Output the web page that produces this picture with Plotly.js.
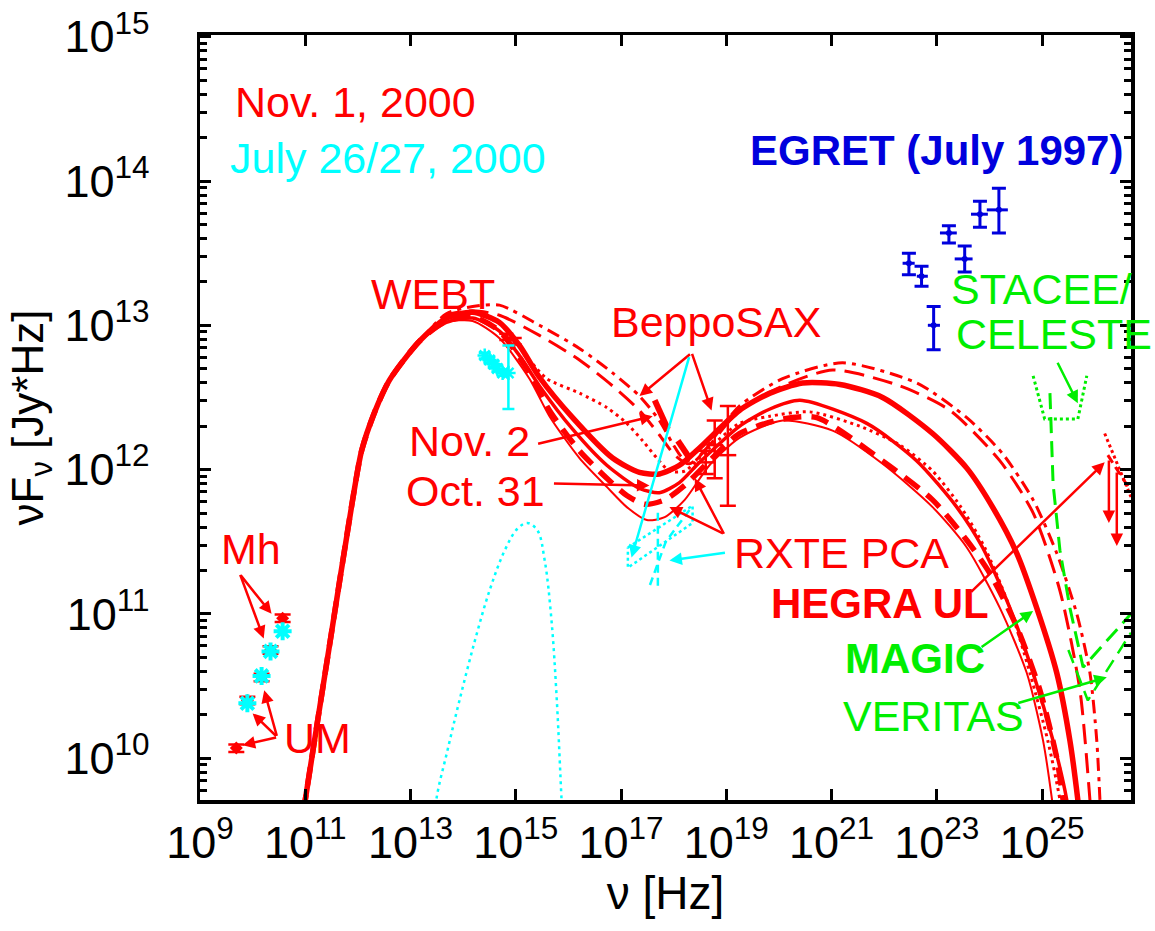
<!DOCTYPE html>
<html>
<head>
<meta charset="utf-8">
<script src="https://cdn.plot.ly/plotly-3.0.1.min.js"></script>
<style>
  html, body { margin: 0; padding: 0; background: #ffffff; }
  #chart { width: 1155px; height: 931px; }
</style>
</head>
<body>
<div id="chart"></div>
<script>
// Spectral energy distribution of BL Lacertae: model curves and multiwavelength data.
// All numbers are log10 of frequency [Hz] and log10 of nuF_nu [Jy*Hz].

// Common synchrotron rise shared by every model curve
const riseLogNu   = [10.89, 11.00, 11.46, 11.90, 12.07, 12.32, 12.60, 13.17];
const riseLogFlux = [ 9.43,  9.71, 10.78, 11.79, 12.13, 12.40, 12.62, 12.89];

// Thick solid model
const thickSolidLogNu   = [13.68, 14.18, 14.69, 15.07, 15.45, 16.08, 16.84, 17.35, 17.73, 18.11, 18.49, 19.25, 19.83, 20.45, 21.16, 21.97, 22.92, 23.57, 24.06, 24.52, 24.90, 25.28, 25.53, 25.68, 25.76];
const thickSolidLogFlux = [13.05, 13.09, 13.02, 12.86, 12.64, 12.36, 12.08, 11.98, 11.97, 12.03, 12.15, 12.41, 12.53, 12.60, 12.59, 12.50, 12.25, 12.01, 11.74, 11.42, 11.04, 10.59, 10.12,  9.71,  9.43];

// Medium solid model
const midSolidLogNu   = [13.68, 14.18, 14.69, 15.07, 15.45, 16.08, 16.73, 17.35, 17.73, 18.11, 18.49, 19.25, 19.83, 20.40, 21.67, 22.62, 23.38, 23.87, 24.39, 24.83, 25.21, 25.47, 25.57];
const midSolidLogFlux = [13.02, 13.05, 12.96, 12.79, 12.58, 12.28, 12.03, 11.87, 11.84, 11.91, 12.05, 12.30, 12.42, 12.48, 12.32, 12.06, 11.74, 11.46, 11.04, 10.59, 10.12,  9.71,  9.43];

// Thin solid model
const thinSolidLogNu   = [13.68, 14.18, 14.69, 15.26, 15.64, 16.21, 16.73, 17.11, 17.49, 17.83, 18.21, 18.68, 19.25, 20.07, 21.02, 21.97, 22.92, 23.57, 24.20, 24.71, 25.02, 25.19, 25.28];
const thinSolidLogFlux = [13.02, 13.03, 12.91, 12.63, 12.37, 12.08, 11.88, 11.74, 11.65, 11.67, 11.79, 12.03, 12.22, 12.34, 12.27, 12.04, 11.74, 11.46, 11.04, 10.59, 10.12,  9.71,  9.43];

// Thick dashed model
const thickDashLogNu   = [13.68, 14.18, 14.69, 15.26, 15.64, 16.21, 16.73, 17.11, 17.45, 17.83, 18.21, 18.68, 19.25, 20.07, 20.72, 21.97, 22.92, 23.57, 24.01, 24.52, 24.96, 25.28, 25.40, 25.49];
const thickDashLogFlux = [13.03, 13.06, 12.96, 12.67, 12.41, 12.13, 11.94, 11.82, 11.76, 11.79, 11.89, 12.06, 12.25, 12.35, 12.36, 12.06, 11.79, 11.51, 11.28, 10.91, 10.47, 10.00,  9.71,  9.43];

// Long dashed model
const longDashLogNu   = [13.68, 14.18, 14.69, 15.45, 16.21, 16.84, 17.35, 17.73, 18.02, 18.30, 18.68, 19.25, 20.07, 21.02, 22.30, 23.25, 24.20, 24.83, 25.34, 25.72, 25.91, 25.97];
const longDashLogFlux = [13.07, 13.10, 13.07, 12.93, 12.76, 12.58, 12.41, 12.24, 12.10, 12.04, 12.17, 12.41, 12.58, 12.69, 12.58, 12.41, 12.06, 11.70, 11.16, 10.47,  9.71,  9.43];

// Dash-dot model (highest gamma-ray output)
const dashDotLogNu   = [13.68, 14.18, 14.69, 15.45, 16.21, 16.84, 17.35, 17.73, 17.98, 18.17, 18.40, 18.72, 19.25, 20.07, 21.21, 22.62, 23.57, 24.25, 24.83, 25.28, 25.66, 25.91, 26.04, 26.10, 26.14];
const dashDotLogFlux = [13.08, 13.13, 13.14, 13.00, 12.84, 12.67, 12.51, 12.34, 12.18, 12.08, 12.06, 12.20, 12.44, 12.63, 12.74, 12.60, 12.36, 12.11, 11.79, 11.42, 11.00, 10.59, 10.12,  9.71,  9.43];

// Dotted model
const dottedLogNu   = [13.68, 14.18, 14.69, 15.26, 15.59, 16.21, 16.73, 17.11, 17.41, 17.68, 17.92, 18.21, 18.68, 19.25, 19.83, 20.59, 21.54, 22.30, 22.92, 23.44, 23.91, 24.39, 24.77, 25.11, 25.34, 25.43];
const dottedLogFlux = [13.05, 13.09, 13.02, 12.76, 12.63, 12.53, 12.43, 12.32, 12.20, 12.08, 11.99, 11.99, 12.15, 12.32, 12.37, 12.40, 12.30, 12.17, 11.99, 11.75, 11.46, 11.04, 10.59, 10.12,  9.71,  9.43];

// Thermal (accretion disk / host) component, July 2000
const thermalLogNu   = [13.44, 13.49, 13.70, 13.93, 14.22, 14.50, 14.79, 15.03, 15.22, 15.41, 15.55, 15.68, 15.78, 15.87, 15.91];
const thermalLogFlux = [ 9.43,  9.71, 10.05, 10.40, 10.81, 11.16, 11.44, 11.59, 11.63, 11.58, 11.37, 10.95, 10.40,  9.71,  9.43];

// Radio data (UMRAO, Metsähovi)
const radioJulyLogNu   = [ 9.90, 10.17, 10.34, 10.57];
const radioJulyLogFlux = [10.38, 10.57, 10.74, 10.88];
const radioNovLogNu    = [ 9.69,  9.90, 10.17, 10.34, 10.57];
const radioNovLogFlux  = [10.07, 10.40, 10.56, 10.75, 10.97];

// Optical WEBT data
const optJulyLogNu   = [14.41, 14.50, 14.58, 14.65, 14.75, 14.86];
const optJulyLogFlux = [12.79, 12.76, 12.73, 12.70, 12.67, 12.67];
const optJulyHi      = [12.81, 12.78, 12.75, 12.72, 12.69, 12.86];
const optJulyLo      = [12.77, 12.74, 12.71, 12.68, 12.65, 12.42];
const optNovLogNu    = [14.82, 14.98];
const optNovLogFlux  = [12.92, 12.89];

// BeppoSAX LECS/MECS spectra, Oct. 31 and Nov. 2
const saxSpecALogNu   = [17.64, 17.89];
const saxSpecALogFlux = [12.48, 12.28];
const saxSpecBLogNu   = [18.08, 18.30];
const saxSpecBLogFlux = [12.20, 12.08];

// BeppoSAX PDS points, Nov. 2000
const saxLogNu   = [18.61, 18.78, 19.03];
const saxLogFlux = [12.05, 12.17, 12.10];
const saxHi      = [12.13, 12.34, 12.44];
const saxLo      = [11.97, 11.94, 11.75];

// RXTE PCA butterflies, July 2000
const rxteDotLogNu   = [17.13, 18.36, 18.36, 17.13, 17.13];
const rxteDotLogFlux = [11.46, 11.75, 11.63, 11.32, 11.46];
const rxteDashLogNu   = [17.70, 17.70];
const rxteDashLogFlux = [11.70, 11.16];
const rxteSlopeLogNu   = [17.55, 17.85, 18.30];
const rxteSlopeLogFlux = [11.20, 11.50, 11.72];

// EGRET (July 1997)
const egretLogNu   = [22.47, 22.71, 23.23, 23.53, 23.82, 24.18, 22.94];
const egretLogFlux = [13.43, 13.34, 13.64, 13.46, 13.77, 13.80, 13.00];
const egretHi      = [13.50, 13.41, 13.69, 13.55, 13.86, 13.95, 13.13];
const egretLo      = [13.35, 13.27, 13.57, 13.37, 13.68, 13.64, 12.83];
const egretNuHi    = [22.58, 22.83, 23.38, 23.68, 23.97, 24.35, 23.06];
const egretNuLo    = [22.35, 22.62, 23.06, 23.34, 23.65, 23.95, 22.83];

// HEGRA upper limits
const hegraDotLogNu    = [26.19, 26.69];
const hegraDotLogFlux  = [12.25, 11.81];
const hegraDashLogNu   = [26.25, 26.69];
const hegraDashLogFlux = [12.10, 11.85];

// Instrument sensitivities
const stacceLogNu   = [24.83, 25.05, 25.68, 25.85];
const stacceLogFlux = [12.65, 12.35, 12.35, 12.65];
const magicLogNu    = [25.15, 25.21, 25.34, 25.53, 25.78, 26.69];
const magicLogFlux  = [12.53, 11.90, 11.44, 11.04, 10.63, 11.00];
const veritasLogNu   = [25.50, 25.87, 26.69];
const veritasLogFlux = [10.75, 10.40, 10.87];

// Axis tick exponents
const xTickExps = [9, 11, 13, 15, 17, 19, 21, 23, 25];
const yTickExps = [10, 11, 12, 13, 14, 15];

const FONT = 'Liberation Sans, Arial, Helvetica, sans-serif';
const RED = '#ff0000', CYAN = '#00ffff', BLUE = '#0000dd', GREEN = '#00ee00';
const p10 = v => Math.pow(10, v);
const powLabel = e => '10<sup style="font-size:28px">' + e + '</sup>';

function modelCurve(lx, ly, width, dash) {
  return {
    type: 'scatter', mode: 'lines',
    x: riseLogNu.concat(lx).map(p10), y: riseLogFlux.concat(ly).map(p10),
    line: { color: RED, width: width, dash: dash, shape: 'spline', smoothing: 0.7 },
    hoverinfo: 'skip', showlegend: false
  };
}
function plainLine(lx, ly, color, width, dash, shape) {
  return {
    type: 'scatter', mode: 'lines', x: lx.map(p10), y: ly.map(p10),
    line: { color: color, width: width, dash: dash, shape: shape || 'linear' },
    hoverinfo: 'skip', showlegend: false
  };
}
function errUp(c, hi) { return c.map((v, i) => p10(hi[i]) - p10(v)); }
function errDown(c, lo) { return c.map((v, i) => p10(v) - p10(lo[i])); }

const traces = [
  modelCurve(dashDotLogNu, dashDotLogFlux, 3, '13px,6px,4px,6px'),
  modelCurve(longDashLogNu, longDashLogFlux, 3, '20px,9px'),
  modelCurve(thickSolidLogNu, thickSolidLogFlux, 5.5, 'solid'),
  modelCurve(dottedLogNu, dottedLogFlux, 3, '3px,4px'),
  modelCurve(midSolidLogNu, midSolidLogFlux, 3.5, 'solid'),
  modelCurve(thickDashLogNu, thickDashLogFlux, 5.5, '18px,10px'),
  modelCurve(thinSolidLogNu, thinSolidLogFlux, 2, 'solid'),

  plainLine(saxSpecALogNu, saxSpecALogFlux, RED, 6, 'solid'),
  plainLine(saxSpecBLogNu, saxSpecBLogFlux, RED, 6, 'solid'),

  plainLine(thermalLogNu, thermalLogFlux, CYAN, 2.5, '3px,4px', 'spline'),

  plainLine(rxteDotLogNu, rxteDotLogFlux, CYAN, 2.5, '3px,3px'),
  plainLine(rxteDashLogNu, rxteDashLogFlux, CYAN, 2.5, '8px,5px'),
  plainLine(rxteSlopeLogNu, rxteSlopeLogFlux, CYAN, 2.5, '8px,5px'),

  plainLine(hegraDotLogNu, hegraDotLogFlux, RED, 3, '3px,3px'),
  plainLine(hegraDashLogNu, hegraDashLogFlux, RED, 3, '9px,5px'),

  plainLine(stacceLogNu, stacceLogFlux, GREEN, 3, '3px,3px'),
  plainLine(magicLogNu, magicLogFlux, GREEN, 3, '16px,8px'),
  plainLine(veritasLogNu, veritasLogFlux, GREEN, 2.5, '14px,8px'),

  // Radio, Nov. 1
  {
    type: 'scatter', mode: 'markers',
    x: radioNovLogNu.map(p10), y: radioNovLogFlux.map(p10),
    marker: { symbol: 'diamond', size: 10, color: RED },
    error_y: { type: 'data', symmetric: true, array: radioNovLogFlux.map(v => p10(v) * 0.06), color: RED, thickness: 2.5, width: 8 },
    hoverinfo: 'skip', showlegend: false
  },
  // Radio, July 26/27
  {
    type: 'scatter', mode: 'markers',
    x: radioJulyLogNu.map(p10), y: radioJulyLogFlux.map(p10),
    marker: { symbol: 'asterisk-open', size: 15, color: CYAN, line: { color: CYAN, width: 4 } },
    hoverinfo: 'skip', showlegend: false
  },
  // Optical, Nov. 1
  {
    type: 'scatter', mode: 'markers',
    x: optNovLogNu.map(p10), y: optNovLogFlux.map(p10),
    marker: { symbol: 'circle', size: 5, color: RED },
    error_y: { type: 'data', symmetric: true, array: optNovLogFlux.map(v => p10(v) * 0.05), color: RED, thickness: 2.5, width: 7 },
    hoverinfo: 'skip', showlegend: false
  },
  // Optical, July 26/27
  {
    type: 'scatter', mode: 'markers',
    x: optJulyLogNu.map(p10), y: optJulyLogFlux.map(p10),
    marker: { symbol: 'asterisk-open', size: 12, color: CYAN, line: { color: CYAN, width: 2.5 } },
    error_y: { type: 'data', symmetric: false, array: errUp(optJulyLogFlux, optJulyHi), arrayminus: errDown(optJulyLogFlux, optJulyLo), color: CYAN, thickness: 2.5, width: 6 },
    hoverinfo: 'skip', showlegend: false
  },
  // BeppoSAX PDS
  {
    type: 'scatter', mode: 'markers',
    x: saxLogNu.map(p10), y: saxLogFlux.map(p10),
    marker: { symbol: 'line-ew-open', size: 12, color: RED, line: { color: RED, width: 2.5 } },
    error_y: { type: 'data', symmetric: false, array: errUp(saxLogFlux, saxHi), arrayminus: errDown(saxLogFlux, saxLo), color: RED, thickness: 2.5, width: 8 },
    hoverinfo: 'skip', showlegend: false
  },
  // EGRET
  {
    type: 'scatter', mode: 'markers',
    x: egretLogNu.map(p10), y: egretLogFlux.map(p10),
    marker: { symbol: 'circle', size: 6, color: BLUE },
    error_y: { type: 'data', symmetric: false, array: errUp(egretLogFlux, egretHi), arrayminus: errDown(egretLogFlux, egretLo), color: BLUE, thickness: 3, width: 7 },
    error_x: { type: 'data', symmetric: false, array: errUp(egretLogNu, egretNuHi), arrayminus: errDown(egretLogNu, egretNuLo), color: BLUE, thickness: 3, width: 0 },
    hoverinfo: 'skip', showlegend: false
  }
];

// Text labels: [text, log nu, log flux, color, bold]
const labels = [
  ['Nov. 1, 2000', 11.95, 14.55, RED, false],
  ['July 26/27, 2000', 12.58, 14.16, CYAN, false],
  ['EGRET (July 1997)', 23.00, 14.21, BLUE, true],
  ['WEBT', 13.42, 13.22, RED, false],
  ['BeppoSAX', 18.80, 13.02, RED, false],
  ['Nov. 2', 14.12, 12.20, RED, false],
  ['Oct. 31', 14.24, 11.85, RED, false],
  ['RXTE PCA', 21.19, 11.42, RED, false],
  ['HEGRA UL', 21.92, 11.07, RED, true],
  ['MAGIC', 22.58, 10.69, GREEN, true],
  ['VERITAS', 22.94, 10.29, GREEN, false],
  ['STACEE/', 24.98, 13.25, GREEN, false],
  ['CELESTE', 25.22, 12.94, GREEN, false],
  ['Mh', 9.96, 11.45, RED, false],
  ['UM', 11.23, 10.14, RED, false]
];

// Pointer arrows: [head log nu, head log flux, tail dx px, tail dy px, color]
const pointers = [
  [10.36, 11.00, -32, -40, RED],
  [10.21, 10.83, -24, -65, RED],
  [ 9.81, 10.09,  35,  -8, RED],
  [10.00, 10.31,  25,  24, RED],
  [10.22, 10.47,  13,  47, RED],
  [17.35, 12.51,  52, -43, RED],
  [18.72, 12.41, -20, -58, RED],
  [17.20, 11.39,  58, -202, CYAN],
  [17.60, 12.37, -116, 28, RED],
  [17.54, 11.89, -97,  -2, RED],
  [17.92, 11.74,  55,  27, RED],
  [18.40, 11.94,  30,  57, RED],
  [17.92, 11.37,  57,  -8, CYAN],
  [26.19, 12.05, -135, 131, RED],
  [24.83, 11.02, -53,  37, GREEN],
  [26.23, 10.56, -90,  26, GREEN],
  [25.68, 12.46, -21, -42, GREEN],
  [26.27, 11.63,   0, -64, RED],
  [26.42, 11.47,   0, -75, RED]
];

const annotations = [];
labels.forEach(l => annotations.push({
  text: l[4] ? '<b>' + l[0] + '</b>' : l[0],
  x: l[1], y: l[2], xref: 'x', yref: 'y',
  xanchor: 'center', yanchor: 'middle', showarrow: false,
  font: { family: FONT, size: l[4] ? 42 : 43, color: l[3] }
}));
pointers.forEach(p => annotations.push({
  text: '', x: p[0], y: p[1], xref: 'x', yref: 'y',
  ax: p[2], ay: p[3], showarrow: true,
  arrowhead: 2, arrowsize: 1, arrowwidth: 2.5, arrowcolor: p[4], standoff: 0
}));

// minor ticks at 2..9 of each decade
const minorTicks = [];
for (let d = 9; d <= 14; d++) for (let m = 2; m <= 9; m++) minorTicks.push(m * p10(d));

const axisCommon = {
  type: 'log', showgrid: false, zeroline: false,
  showline: true, linewidth: 3.5, linecolor: '#000', mirror: 'ticks',
  ticks: 'inside', ticklen: 11, tickwidth: 3, tickcolor: '#000',
  tickfont: { family: FONT, size: 45, color: '#000' }, tickangle: 0
};

const layout = {
  width: 1155, height: 931,
  margin: { l: 200, r: 24, t: 35, b: 131 },
  paper_bgcolor: '#ffffff', plot_bgcolor: '#ffffff',
  showlegend: false,
  xaxis: Object.assign({}, axisCommon, {
    range: [9, 26.69], tickmode: 'array',
    tickvals: xTickExps.map(p10), ticktext: xTickExps.map(powLabel),
    title: { text: 'ν [Hz]', font: { family: FONT, size: 46, color: '#000' }, standoff: 8 }
  }),
  yaxis: Object.assign({}, axisCommon, {
    range: [9.71, 15.012], tickmode: 'array',
    tickvals: yTickExps.map(p10), ticktext: yTickExps.map(powLabel),
    ticklabelstandoff: 38,
    minor: { tickmode: 'array', tickvals: minorTicks, ticks: 'inside', ticklen: 7, tickwidth: 3, tickcolor: '#000', showgrid: false },
    title: { text: 'νF<sub>ν</sub> [Jy*Hz]', font: { family: FONT, size: 44, color: '#000' }, standoff: 8 }
  }),
  annotations: annotations
};

Plotly.newPlot('chart', traces, layout, { staticPlot: true, displayModeBar: false });
</script>
</body>
</html>
